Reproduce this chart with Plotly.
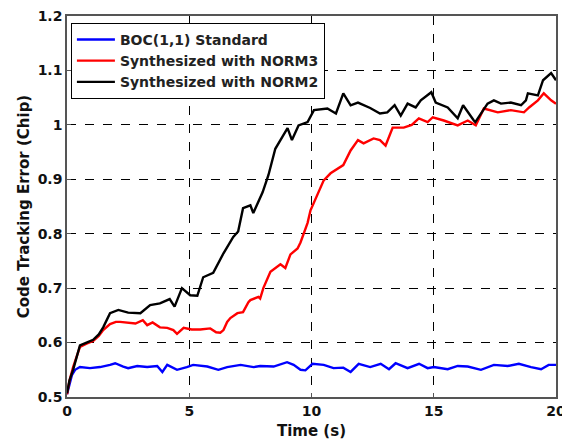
import plotly.graph_objects as go

# Blue: BOC(1,1) Standard
t_blue = [0.0, 0.1, 0.2, 0.33, 0.53, 0.94, 1.35, 1.76, 1.97, 2.3, 2.5, 2.87, 3.28, 3.69, 3.9, 4.1, 4.5, 4.9,
          5.16, 5.74, 6.19, 6.55, 7.1, 7.63, 7.9, 8.45, 9.0, 9.27, 9.55, 9.75, 10.04, 10.5, 10.9, 11.3, 11.6,
          11.93, 12.4, 12.83, 13.17, 13.44, 13.93, 14.4, 14.75, 15.0, 15.57, 15.98, 16.39, 16.93, 17.46,
          18.03, 18.48, 18.98, 19.39, 19.7, 20.0]
y_blue = [0.505, 0.525, 0.54, 0.55, 0.555, 0.553, 0.555, 0.559, 0.562, 0.556, 0.553, 0.557, 0.555, 0.557, 0.546,
          0.559, 0.55, 0.555, 0.559, 0.556, 0.55, 0.555, 0.559, 0.555, 0.557, 0.556, 0.564, 0.559, 0.55, 0.549,
          0.561, 0.559, 0.553, 0.554, 0.546, 0.561, 0.555, 0.561, 0.551, 0.562, 0.553, 0.561, 0.553, 0.555,
          0.551, 0.557, 0.556, 0.55, 0.559, 0.557, 0.561, 0.555, 0.551, 0.559, 0.559]

# Red: Synthesized with NORM3
t_red = [0.0, 0.1, 0.25, 0.53, 0.8, 1.07, 1.3, 1.48, 1.76, 2.0, 2.17, 2.46, 2.8, 3.1, 3.28, 3.5, 3.8, 4.1, 4.35,
         4.5, 4.77, 5.1, 5.45, 5.86, 6.1, 6.27, 6.4, 6.55, 6.68, 6.97, 7.2, 7.42, 7.5, 7.83, 7.9, 8.03, 8.32,
         8.73, 8.93, 9.14, 9.43, 9.55, 9.84, 9.96, 10.25, 10.5, 10.78, 11.07, 11.3, 11.6, 11.9, 12.13, 12.4,
         12.54, 12.8, 13.03, 13.32, 13.77, 14.1, 14.39, 14.75, 14.96, 15.41, 15.98, 16.39, 16.72, 17.05,
         17.62, 18.15, 18.69, 18.9, 19.26, 19.5, 19.8, 20.0]
y_red = [0.505, 0.53, 0.555, 0.592, 0.598, 0.603, 0.612, 0.623, 0.634, 0.638, 0.638, 0.636, 0.635, 0.641, 0.632,
         0.637, 0.628, 0.627, 0.623, 0.616, 0.627, 0.624, 0.624, 0.626, 0.619, 0.618, 0.623, 0.638, 0.645, 0.654,
         0.656, 0.674, 0.678, 0.684, 0.681, 0.7, 0.73, 0.744, 0.737, 0.762, 0.773, 0.784, 0.82, 0.843, 0.874,
         0.898, 0.911, 0.92, 0.926, 0.953, 0.972, 0.966, 0.972, 0.975, 0.972, 0.962, 0.995, 0.995, 1.0, 1.012,
         1.005, 1.014, 1.008, 0.999, 1.008, 0.999, 1.03, 1.023, 1.027, 1.023, 1.032, 1.045, 1.058, 1.045, 1.039]

# Black: Synthesized with NORM2
t_black = [0.0, 0.1, 0.25, 0.53, 0.8, 1.07, 1.3, 1.48, 1.76, 2.1, 2.5, 3.0, 3.4, 3.8, 4.2, 4.4, 4.7, 5.04, 5.33,
           5.57, 5.98, 6.4, 6.8, 7.0, 7.2, 7.5, 7.62, 7.9, 8.0, 8.24, 8.52, 8.85, 9.02, 9.2, 9.47, 9.84, 10.1,
           10.65, 11.0, 11.3, 11.6, 11.9, 12.4, 12.8, 13.1, 13.4, 13.65, 13.93, 14.26, 14.47, 14.9, 15.08, 15.57,
           15.98, 16.2, 16.64, 16.7, 17.2, 17.46, 17.75, 18.15, 18.57, 18.77, 18.85, 19.26, 19.47, 19.8, 20.0]
y_black = [0.507, 0.53, 0.55, 0.595, 0.6, 0.605, 0.615, 0.628, 0.654, 0.66, 0.655, 0.654, 0.669, 0.672, 0.68,
           0.666, 0.7, 0.687, 0.686, 0.72, 0.728, 0.764, 0.794, 0.804, 0.847, 0.852, 0.838, 0.867, 0.876, 0.908,
           0.956, 0.981, 0.994, 0.972, 0.999, 1.005, 1.027, 1.03, 1.021, 1.058, 1.036, 1.041, 1.031, 1.021, 1.023,
           1.036, 1.017, 1.039, 1.032, 1.045, 1.06, 1.041, 1.032, 1.012, 1.036, 1.008, 1.005, 1.039, 1.045, 1.039,
           1.041, 1.036, 1.045, 1.058, 1.054, 1.082, 1.095, 1.082]

x_ticks = [0, 5, 10, 15, 20]
y_ticks = [0.5, 0.6, 0.7, 0.8, 0.9, 1.0, 1.1, 1.2]
y_tick_text = ["0.5", "0.6", "0.7", "0.8", "0.9", "1", "1.1", "1.2"]

fig = go.Figure()
fig.add_trace(go.Scatter(x=t_blue, y=y_blue, mode="lines", name="<b>BOC(1,1) Standard</b>",
                         line=dict(color="#0000ff", width=2.4)))
fig.add_trace(go.Scatter(x=t_red, y=y_red, mode="lines", name="<b>Synthesized with NORM3</b>",
                         line=dict(color="#ff0000", width=2.4)))
fig.add_trace(go.Scatter(x=t_black, y=y_black, mode="lines", name="<b>Synthesized with NORM2</b>",
                         line=dict(color="#000000", width=2.4)))

font_fam = "DejaVu Sans, Verdana, sans-serif"
fig.update_layout(
    width=562, height=433,
    margin=dict(l=59, r=14, t=8, b=44),
    paper_bgcolor="white", plot_bgcolor="white",
    font=dict(family=font_fam, size=14, color="#111"),
    showlegend=True,
    legend=dict(x=0.008, y=0.982, xanchor="left", yanchor="top",
                bgcolor="white", bordercolor="black", borderwidth=1,
                font=dict(family=font_fam, size=14, color="#222"),
                itemwidth=38, tracegroupgap=0),
    xaxis=dict(range=[0, 20], tickvals=x_ticks, ticktext=["<b>%d</b>" % v for v in x_ticks],
               showgrid=True, gridcolor="black", griddash="dash", gridwidth=1,
               showline=True, linecolor="#555", linewidth=1.5, mirror=True,
               ticks="inside", ticklen=4, tickcolor="#555", zeroline=False, automargin=False,
               tickfont=dict(size=14), ticklabeloverflow="allow",
               title=dict(text="<b>Time (s)</b>", standoff=8, font=dict(size=15))),
    yaxis=dict(range=[0.5, 1.2], tickvals=y_ticks, ticktext=["<b>%s</b>" % s for s in y_tick_text],
               showgrid=True, gridcolor="black", griddash="dash", gridwidth=1,
               showline=True, linecolor="#555", linewidth=1.5, mirror=True,
               ticks="inside", ticklen=4, tickcolor="#555", zeroline=False, automargin=False,
               tickfont=dict(size=14), ticklabeloverflow="allow",
               title=dict(text="<b>Code Tracking Error (Chip)</b>", standoff=4, font=dict(size=15))),
)

fig.write_html("out.html")
